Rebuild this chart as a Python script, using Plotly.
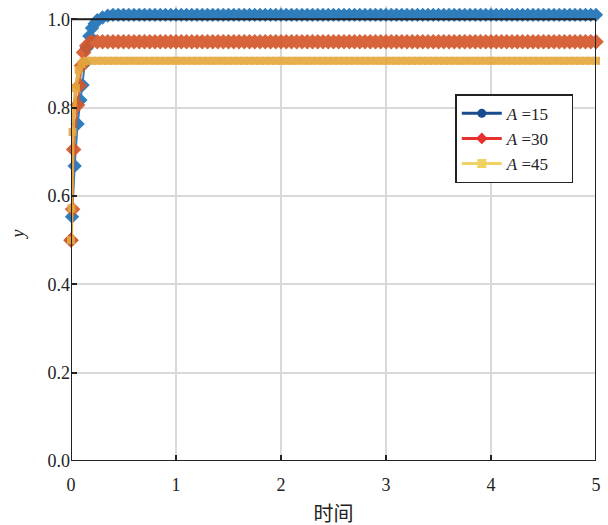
import plotly.graph_objects as go

# shared plateau time grid
t_plateau = [
    0.25, 0.30, 0.35, 0.40, 0.45, 0.50, 0.55, 0.60, 0.65, 0.70,
    0.75, 0.80, 0.85, 0.90, 0.95, 1.00, 1.05, 1.10, 1.15, 1.20,
    1.25, 1.30, 1.35, 1.40, 1.45, 1.50, 1.55, 1.60, 1.65, 1.70,
    1.75, 1.80, 1.85, 1.90, 1.95, 2.00, 2.05, 2.10, 2.15, 2.20,
    2.25, 2.30, 2.35, 2.40, 2.45, 2.50, 2.55, 2.60, 2.65, 2.70,
    2.75, 2.80, 2.85, 2.90, 2.95, 3.00, 3.05, 3.10, 3.15, 3.20,
    3.25, 3.30, 3.35, 3.40, 3.45, 3.50, 3.55, 3.60, 3.65, 3.70,
    3.75, 3.80, 3.85, 3.90, 3.95, 4.00, 4.05, 4.10, 4.15, 4.20,
    4.25, 4.30, 4.35, 4.40, 4.45, 4.50, 4.55, 4.60, 4.65, 4.70,
    4.75, 4.80, 4.85, 4.90, 4.95, 5.00,
]

# A = 15
t_a15_early = [0.0, 0.01, 0.035, 0.063, 0.09, 0.11, 0.13, 0.15, 0.175, 0.20, 0.225]
y_a15_early = [0.500, 0.553, 0.668, 0.763, 0.817, 0.851, 0.900, 0.935, 0.962, 0.980, 0.990]
y_a15_plateau = [
    0.998, 1.004, 1.008, 1.010, 1.010, 1.010, 1.010, 1.010, 1.010, 1.010,
    1.010, 1.010, 1.010, 1.010, 1.010, 1.010, 1.010, 1.010, 1.010, 1.010,
    1.010, 1.010, 1.010, 1.010, 1.010, 1.010, 1.010, 1.010, 1.010, 1.010,
    1.010, 1.010, 1.010, 1.010, 1.010, 1.010, 1.010, 1.010, 1.010, 1.010,
    1.010, 1.010, 1.010, 1.010, 1.010, 1.010, 1.010, 1.010, 1.010, 1.010,
    1.010, 1.010, 1.010, 1.010, 1.010, 1.010, 1.010, 1.010, 1.010, 1.010,
    1.010, 1.010, 1.010, 1.010, 1.010, 1.010, 1.010, 1.010, 1.010, 1.010,
    1.010, 1.010, 1.010, 1.010, 1.010, 1.010, 1.010, 1.010, 1.010, 1.010,
    1.010, 1.010, 1.010, 1.010, 1.010, 1.010, 1.010, 1.010, 1.010, 1.010,
    1.010, 1.010, 1.010, 1.010, 1.010, 1.010,
]

# A = 30
t_a30_early = [0.0, 0.015, 0.025, 0.063, 0.08, 0.10, 0.12, 0.15, 0.18, 0.20]
y_a30_early = [0.500, 0.570, 0.705, 0.806, 0.850, 0.895, 0.925, 0.940, 0.947, 0.949]
y_a30_plateau = [
    0.949, 0.949, 0.949, 0.949, 0.949, 0.949, 0.949, 0.949, 0.949, 0.949,
    0.949, 0.949, 0.949, 0.949, 0.949, 0.949, 0.949, 0.949, 0.949, 0.949,
    0.949, 0.949, 0.949, 0.949, 0.949, 0.949, 0.949, 0.949, 0.949, 0.949,
    0.949, 0.949, 0.949, 0.949, 0.949, 0.949, 0.949, 0.949, 0.949, 0.949,
    0.949, 0.949, 0.949, 0.949, 0.949, 0.949, 0.949, 0.949, 0.949, 0.949,
    0.949, 0.949, 0.949, 0.949, 0.949, 0.949, 0.949, 0.949, 0.949, 0.949,
    0.949, 0.949, 0.949, 0.949, 0.949, 0.949, 0.949, 0.949, 0.949, 0.949,
    0.949, 0.949, 0.949, 0.949, 0.949, 0.949, 0.949, 0.949, 0.949, 0.949,
    0.949, 0.949, 0.949, 0.949, 0.949, 0.949, 0.949, 0.949, 0.949, 0.949,
    0.949, 0.949, 0.949, 0.949, 0.949, 0.949,
]

# A = 45
t_a45_early = [0.0, 0.005, 0.015, 0.047, 0.073, 0.10, 0.12, 0.15, 0.20]
y_a45_early = [0.500, 0.572, 0.745, 0.844, 0.885, 0.898, 0.904, 0.906, 0.906]
y_a45_plateau = [
    0.906, 0.906, 0.906, 0.906, 0.906, 0.906, 0.906, 0.906, 0.906, 0.906,
    0.906, 0.906, 0.906, 0.906, 0.906, 0.906, 0.906, 0.906, 0.906, 0.906,
    0.906, 0.906, 0.906, 0.906, 0.906, 0.906, 0.906, 0.906, 0.906, 0.906,
    0.906, 0.906, 0.906, 0.906, 0.906, 0.906, 0.906, 0.906, 0.906, 0.906,
    0.906, 0.906, 0.906, 0.906, 0.906, 0.906, 0.906, 0.906, 0.906, 0.906,
    0.906, 0.906, 0.906, 0.906, 0.906, 0.906, 0.906, 0.906, 0.906, 0.906,
    0.906, 0.906, 0.906, 0.906, 0.906, 0.906, 0.906, 0.906, 0.906, 0.906,
    0.906, 0.906, 0.906, 0.906, 0.906, 0.906, 0.906, 0.906, 0.906, 0.906,
    0.906, 0.906, 0.906, 0.906, 0.906, 0.906, 0.906, 0.906, 0.906, 0.906,
    0.906, 0.906, 0.906, 0.906, 0.906, 0.906,
]

legend_names = ["<i>A</i> =15", "<i>A</i> =30", "<i>A</i> =45"]
x_ticks = [0, 1, 2, 3, 4, 5]
y_ticks = [0.0, 0.2, 0.4, 0.6, 0.8, 1.0]
x_range = [0, 5]
y_frame = [0, 1.0]      # framed region
y_view = [0, 1.03]      # visible range (markers above the frame stay visible)

FONT = "Liberation Serif, Times New Roman, Noto Sans CJK SC, serif"
FRAME = "#222222"
PAD = "&nbsp;" * 4

fig = go.Figure()

plot_series = [
    (t_a15_early + t_plateau, y_a15_early + y_a15_plateau, "#1f72b8", "diamond", 11, 2),
    (t_a30_early + t_plateau, y_a30_early + y_a30_plateau, "#d4572a", "diamond", 12, 2),
    (t_a45_early + t_plateau, y_a45_early + y_a45_plateau, "#e6a83e", "square", 8, 4),
]
for xs, ys, col, sym, size, lw in plot_series:
    fig.add_trace(go.Scatter(
        x=xs, y=ys, mode="lines+markers", showlegend=False,
        line=dict(color=col, width=lw),
        marker=dict(symbol=sym, size=size, color=col, line=dict(width=0)),
        opacity=0.92,
        cliponaxis=False,
    ))

legend_styles = [
    ("#1b4b8c", "circle"),
    ("#e8312e", "diamond"),
    ("#f0d264", "square"),
]
for name, (col, sym) in zip(legend_names, legend_styles):
    fig.add_trace(go.Scatter(
        x=[None], y=[None], mode="lines+markers", name=name + PAD,
        line=dict(color=col, width=3),
        marker=dict(symbol=sym, size=9, color=col),
    ))

# frame box around [0,5] x [0,1]
for x0, y0, x1, y1 in [
    (x_range[0], y_frame[0], x_range[1], y_frame[0]),
    (x_range[0], y_frame[1], x_range[1], y_frame[1]),
    (x_range[0], y_frame[0], x_range[0], y_frame[1]),
    (x_range[1], y_frame[0], x_range[1], y_frame[1]),
]:
    fig.add_shape(type="line", xref="x", yref="y", x0=x0, y0=y0, x1=x1, y1=y1,
                  line=dict(color=FRAME, width=2), layer="above")

axis_common = dict(
    showline=False, automargin=False,
    ticks="inside", ticklen=6, tickwidth=2, tickcolor=FRAME,
    showgrid=True, gridcolor="#d9d9d9", gridwidth=1.5,
    zeroline=False,
    tickfont=dict(family=FONT, size=18, color=FRAME),
)

fig.update_layout(
    width=608, height=525,
    margin=dict(l=71, r=12, t=6, b=64),
    paper_bgcolor="white", plot_bgcolor="white",
    font=dict(family=FONT, size=18, color=FRAME),
    xaxis=dict(range=x_range, tickvals=x_ticks, ticklabelstandoff=11,
               title=dict(text="时间", standoff=12,
                          font=dict(family=FONT, size=20)),
               **axis_common),
    yaxis=dict(range=y_view, tickvals=y_ticks, tickformat=".1f",
               title=dict(text="<i>y</i>", standoff=18,
                          font=dict(family=FONT, size=18)),
               **axis_common),
    legend=dict(x=0.732, y=0.806, xanchor="left", yanchor="top",
                bordercolor=FRAME, borderwidth=1.5, bgcolor="white",
                font=dict(family=FONT, size=17, color=FRAME),
                tracegroupgap=0, itemwidth=40),
)

fig.write_html("out.html")
